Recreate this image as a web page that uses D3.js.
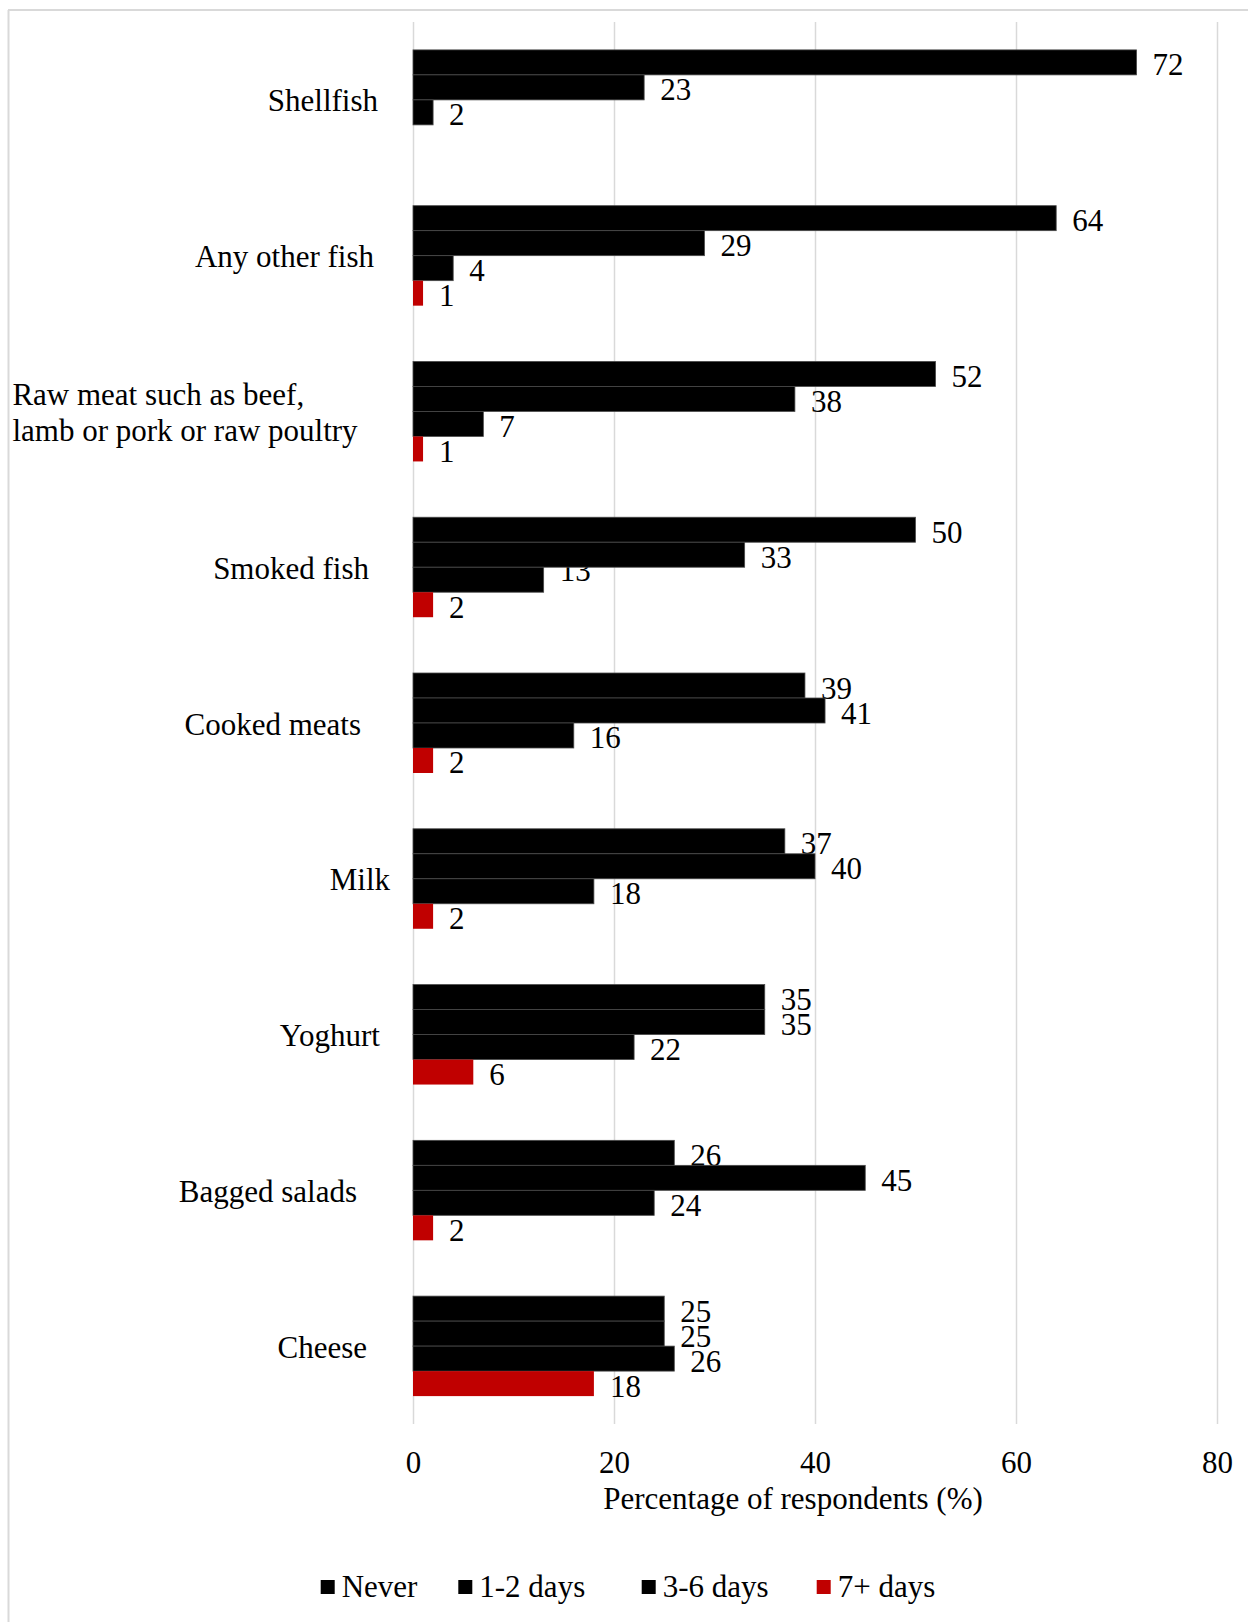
<!DOCTYPE html>
<html>
<head>
<meta charset="utf-8">
<script src="https://cdn.jsdelivr.net/npm/d3@7"></script>
<style>
  html, body { margin: 0; padding: 0; background: #fff; }
  svg { display: block; }
  text { font-family: "Liberation Serif", "Times New Roman", serif; fill: #000; }
</style>
</head>
<body>
<script>
// ---- Data ----
const categories = ["Shellfish", "Any other fish", "Raw meat such as beef, lamb or pork or raw poultry",
  "Smoked fish", "Cooked meats", "Milk", "Yoghurt", "Bagged salads", "Cheese"];
const seriesNames = ["Never", "1-2 days", "3-6 days", "7+ days"];
const neverVals = [72, 64, 52, 50, 39, 37, 35, 26, 25];
const days12Vals = [23, 29, 38, 33, 41, 40, 35, 45, 25];
const days36Vals = [2, 4, 7, 13, 16, 18, 22, 24, 26];
const days7Vals = [null, 1, 1, 2, 2, 2, 6, 2, 18];
const tickValues = [0, 20, 40, 60, 80];
const seriesColors = ["#000000", "#000000", "#000000", "#c00000"];
const axisTitle = "Percentage of respondents (%)";

const seriesVals = [neverVals, days12Vals, days36Vals, days7Vals];

// ---- Layout ----
const W = 1248, H = 1622;
const FS = 31;
const svg = d3.select("body").append("svg").attr("width", W).attr("height", H);
svg.append("rect").attr("width", W).attr("height", H).attr("fill", "#fff");

// outer border (top and left visible)
svg.append("line").attr("x1", 8).attr("x2", W).attr("y1", 10).attr("y2", 10)
  .attr("stroke", "#d9d9d9").attr("stroke-width", 2);
svg.append("line").attr("x1", 8.5).attr("x2", 8.5).attr("y1", 10).attr("y2", H)
  .attr("stroke", "#d9d9d9").attr("stroke-width", 2);

const x = d3.scaleLinear().domain([0, 80]).range([413, 1217]);
const y = d3.scaleBand().domain(categories).range([22, 1424]).paddingInner(0).paddingOuter(0);
const yInner = d3.scaleBand().domain(seriesNames).range([0, y.bandwidth()])
  .paddingInner(0).paddingOuter(1.116);

// gridlines + tick labels via axis
const axisG = svg.append("g").attr("transform", `translate(0,${1424})`)
  .call(d3.axisBottom(x).tickValues(tickValues).tickSize(-(1424 - 22)).tickFormat(d3.format("d")));
axisG.select(".domain").remove();
axisG.selectAll(".tick line").attr("stroke", "#d9d9d9").attr("stroke-width", 1.5);
axisG.selectAll(".tick text").attr("y", 49).attr("dy", 0)
  .style("font-size", FS + "px").style("font-family", "'Liberation Serif', 'Times New Roman', serif")
  .attr("fill", "#000");

// rows
const rows = [];
categories.forEach((c, i) => {
  seriesNames.forEach((s, j) => {
    const v = seriesVals[j][i];
    if (v !== null && v !== undefined) rows.push({ cat: c, s: s, j: j, v: v });
  });
});

// label nudges (layout only) as seen in the reference
const labelDy = { "Smoked fish|3-6 days": -12 };

// value labels (drawn beneath bars, as in reference)
const labG = svg.append("g");
labG.selectAll("text").data(rows).enter().append("text")
  .attr("x", d => x(d.v) + 16)
  .attr("y", d => y(d.cat) + yInner(d.s) + yInner.bandwidth() / 2 + 13 + (labelDy[d.cat + "|" + d.s] || 0))
  .style("font-size", FS + "px")
  .text(d => d.v);

// bars
const barG = svg.append("g");
barG.selectAll("rect").data(rows).enter().append("rect")
  .attr("x", x(0))
  .attr("y", d => y(d.cat) + yInner(d.s))
  .attr("width", d => x(d.v) - x(0))
  .attr("height", yInner.bandwidth())
  .attr("fill", d => seriesColors[d.j])
  .attr("stroke", d => d.j === 3 ? "none" : "#4a4a4a")
  .attr("stroke-width", 0.8);

// category labels (right edge positions per label, as in reference)
const labelRight = {
  "Shellfish": 378, "Any other fish": 374, "Smoked fish": 369, "Cooked meats": 361,
  "Milk": 390, "Yoghurt": 380, "Bagged salads": 357, "Cheese": 367
};
const catG = svg.append("g");
categories.forEach(c => {
  const cy = y(c) + y.bandwidth() / 2;
  if (labelRight[c] !== undefined) {
    catG.append("text").attr("x", labelRight[c]).attr("y", cy + 11.5)
      .attr("text-anchor", "end").style("font-size", FS + "px").text(c);
  } else {
    const lines = ["Raw meat such as beef,", "lamb or pork or raw poultry"];
    const t = catG.append("text").attr("x", 12.4).attr("y", cy - 18 + 11.5)
      .attr("text-anchor", "start").style("font-size", FS + "px");
    lines.forEach((ln, k) => {
      t.append("tspan").attr("x", 12.4).attr("dy", k === 0 ? 0 : 36).text(ln);
    });
  }
});

// axis title
svg.append("text").attr("x", 793).attr("y", 1509).attr("text-anchor", "middle")
  .style("font-size", FS + "px").text(axisTitle);

// legend
const legendX = [320.7, 458.3, 641.7, 816.7];
const legG = svg.append("g");
seriesNames.forEach((s, j) => {
  legG.append("rect").attr("x", legendX[j]).attr("y", 1580).attr("width", 14).attr("height", 14)
    .attr("fill", seriesColors[j]);
  legG.append("text").attr("x", legendX[j] + 21).attr("y", 1596.5)
    .style("font-size", FS + "px").text(s);
});
</script>
</body>
</html>
